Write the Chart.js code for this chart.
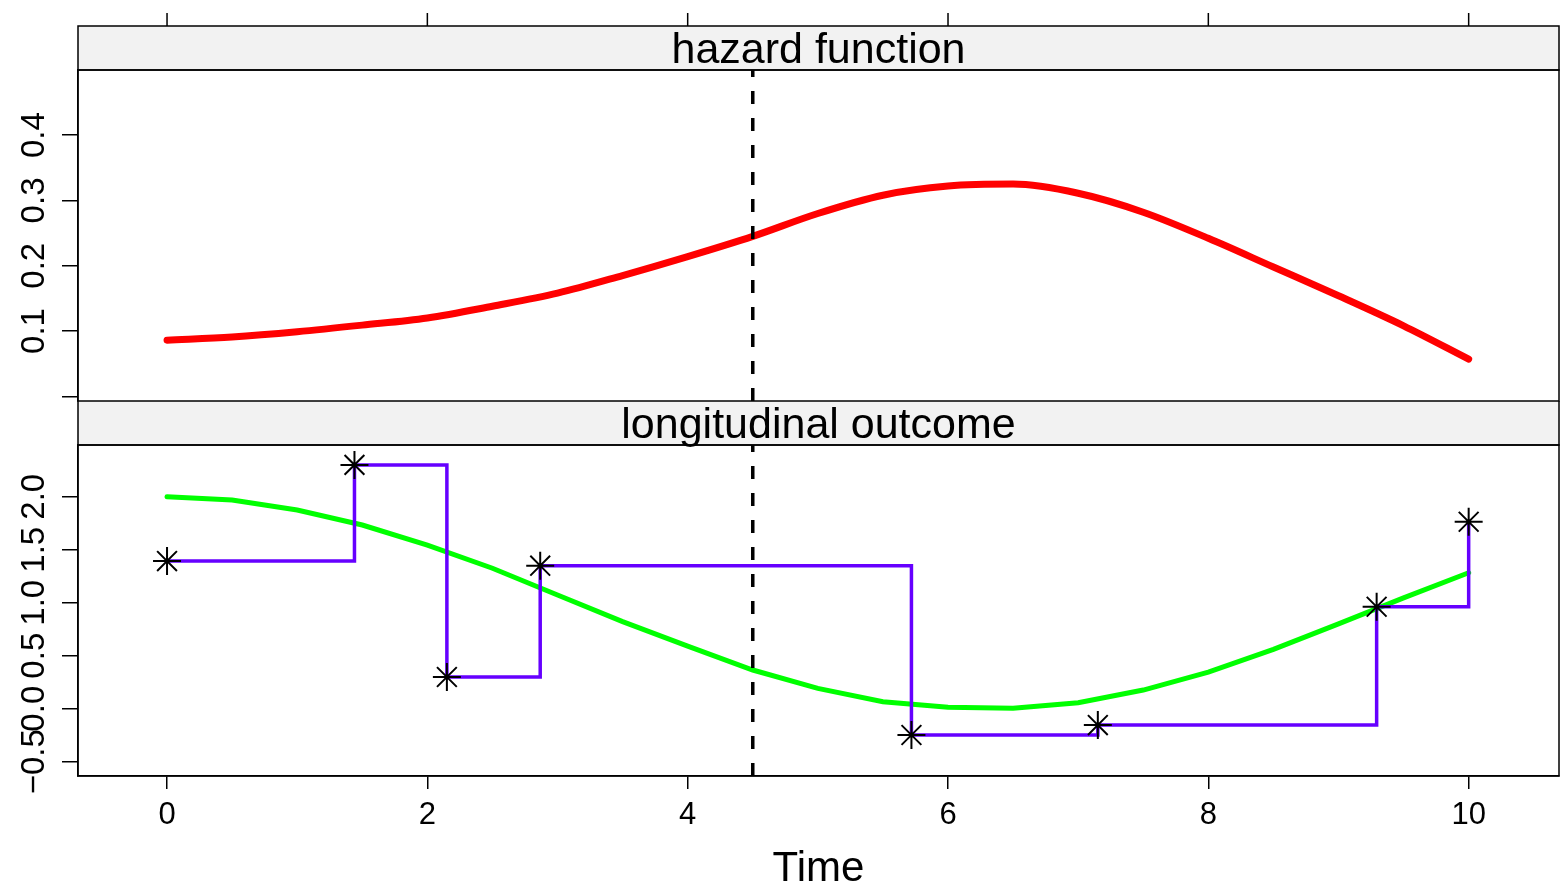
<!DOCTYPE html>
<html lang="en">
<head>
<meta charset="UTF-8" />
<title>hazard function / longitudinal outcome</title>
<style>
  html, body { margin: 0; padding: 0; background: #fff; }
  #wrap { position: relative; width: 1562px; height: 891px; overflow: hidden; }
  .panel { position: absolute; left: 0; width: 1562px; }
  #topPanel { top: 0; height: 403px; }
  #bottomPanel { top: 401px; height: 490px; }
</style>
</head>
<body>

<div id="wrap">
  <div class="panel" id="topPanel"><canvas id="hazardChart"></canvas></div>
  <div class="panel" id="bottomPanel"><canvas id="longChart"></canvas></div>
</div>

<script src="https://cdn.jsdelivr.net/npm/chart.js"></script>
<script>
// values
const timeGrid = [0, 0.5, 1, 1.5, 2, 2.5, 3, 3.5, 4, 4.5, 5, 5.5, 6, 6.5, 7, 7.5, 8, 8.5, 9, 9.5, 10];
const hazard   = [0.086, 0.091, 0.099, 0.109, 0.120, 0.138, 0.158, 0.185, 0.214, 0.245, 0.280,
                  0.308, 0.322, 0.325, 0.311, 0.282, 0.242, 0.198, 0.154, 0.108, 0.057];
const fitted   = [2.000, 1.969, 1.875, 1.733, 1.544, 1.325, 1.073, 0.821, 0.590, 0.365, 0.192,
                  0.066, 0.013, 0.004, 0.057, 0.176, 0.345, 0.560, 0.800, 1.045, 1.283];

const obsTime  = [0, 1.44, 2.15, 2.867, 5.719, 7.151, 9.293, 10.0];
const obsValue = [1.393, 2.30, 0.299, 1.349, -0.248, -0.154, 0.962, 1.764];

const cutTime = 4.5;

const timeTicks    = [0, 2, 4, 6, 8, 10];
const hazardTicks  = [0, 0.1, 0.2, 0.3, 0.4];
const hazardLabels = ['', '0.1', '0.2', '0.3', '0.4'];
const outcomeTicks  = [-0.5, 0, 0.5, 1, 1.5, 2];
const outcomeLabels = ['\u22120.5', '0.0', '0.5', '1.0', '1.5', '2.0'];

const timeRange    = [-0.684, 10.694];
const hazardRange  = [-0.0072, 0.4998];
const outcomeRange = [-0.635, 2.488];

const FONT = '"Liberation Sans", Arial, Helvetica, sans-serif';

function pts(xs, ys) { return xs.map((x, i) => ({ x: x, y: ys[i] })); }

// strip, frame, top ticks and rotated y labels, lattice style
const latticePanel = {
  id: 'latticePanel',
  afterDraw(chart, args, opts) {
    const ctx = chart.ctx, a = chart.chartArea;
    const xs = chart.scales.x, ys = chart.scales.y;
    const sTop = a.top - opts.stripHeight;
    ctx.save();
    ctx.fillStyle = '#f2f2f2';
    ctx.fillRect(a.left, sTop, a.right - a.left, opts.stripHeight);
    ctx.strokeStyle = '#000';
    ctx.lineWidth = 1.5;
    ctx.strokeRect(a.left, sTop, a.right - a.left, opts.stripHeight);
    ctx.strokeRect(a.left, a.top, a.right - a.left, a.bottom - a.top);

    ctx.fillStyle = '#000';
    ctx.textAlign = 'center';
    ctx.textBaseline = 'middle';
    ctx.font = '43px ' + FONT;
    ctx.fillText(opts.strip, (a.left + a.right) / 2, sTop + opts.stripHeight / 2 + 3);

    if (opts.topTicks) {
      ctx.beginPath();
      timeTicks.forEach(t => {
        const px = xs.getPixelForValue(t);
        ctx.moveTo(px, sTop);
        ctx.lineTo(px, sTop - 13);
      });
      ctx.stroke();
    }

    ctx.font = '33px ' + FONT;
    opts.ticks.forEach((v, i) => {
      const label = opts.labels[i];
      if (!label) return;
      const py = ys.getPixelForValue(v);
      ctx.save();
      ctx.translate(35, py);
      ctx.rotate(-Math.PI / 2);
      ctx.fillText(label, 0, 0);
      ctx.restore();
    });
    ctx.restore();
  }
};

function yAxis(range, ticks) {
  return {
    type: 'linear',
    min: range[0],
    max: range[1],
    afterFit(s) { s.width = 78; },
    afterBuildTicks(s) { s.ticks = ticks.map(v => ({ value: v })); },
    ticks: { display: false },
    grid: { drawOnChartArea: false, tickLength: 16, tickColor: '#000', lineWidth: 1.5 },
    border: { color: '#000', width: 1.5 }
  };
}

function cutLine(range) {
  return {
    data: [{ x: cutTime, y: range[0] }, { x: cutTime, y: range[1] }],
    borderColor: '#000',
    borderWidth: 3.5,
    borderDash: [13, 14],
    pointRadius: 0,
    order: -1
  };
}

Chart.defaults.font.family = FONT;
Chart.defaults.color = '#000';

new Chart(document.getElementById('hazardChart'), {
  type: 'line',
  data: {
    datasets: [
      {
        data: pts(timeGrid, hazard),
        borderColor: '#ff0000',
        borderWidth: 7,
        borderCapStyle: 'round',
        borderJoinStyle: 'round',
        pointRadius: 0,
        cubicInterpolationMode: 'monotone',
        order: 1
      },
      cutLine(hazardRange)
    ]
  },
  options: {
    responsive: true,
    maintainAspectRatio: false,
    animation: false,
    events: [],
    layout: { autoPadding: false, padding: { top: 70, right: 3, bottom: 2, left: 0 } },
    plugins: {
      legend: { display: false },
      tooltip: { enabled: false },
      latticePanel: { strip: 'hazard function', stripHeight: 44, topTicks: true, ticks: hazardTicks, labels: hazardLabels }
    },
    scales: {
      x: { type: 'linear', min: timeRange[0], max: timeRange[1], display: false },
      y: yAxis(hazardRange, hazardTicks)
    }
  },
  plugins: [latticePanel]
});

new Chart(document.getElementById('longChart'), {
  type: 'line',
  data: {
    datasets: [
      {
        data: pts(timeGrid, fitted),
        borderColor: '#00ff00',
        borderWidth: 5,
        borderCapStyle: 'round',
        pointRadius: 0,
        tension: 0,
        order: 2
      },
      {
        data: pts(obsTime, obsValue),
        borderColor: '#6600ff',
        borderWidth: 3.5,
        stepped: true,
        pointRadius: 0,
        order: 1
      },
      {
        data: pts(obsTime, obsValue),
        showLine: false,
        pointStyle: 'star',
        pointRadius: 14,
        pointBorderColor: '#000',
        pointBackgroundColor: 'rgba(0,0,0,0)',
        pointBorderWidth: 2,
        order: 0
      },
      cutLine(outcomeRange)
    ]
  },
  options: {
    responsive: true,
    maintainAspectRatio: false,
    animation: false,
    events: [],
    layout: { autoPadding: false, padding: { top: 44, right: 3, bottom: 0, left: 0 } },
    plugins: {
      legend: { display: false },
      tooltip: { enabled: false },
      latticePanel: { strip: 'longitudinal outcome', stripHeight: 44, topTicks: false, ticks: outcomeTicks, labels: outcomeLabels }
    },
    scales: {
      x: {
        type: 'linear',
        min: timeRange[0],
        max: timeRange[1],
        afterFit(s) { s.height = 115; s.paddingLeft = 0; s.paddingRight = 0; },
        afterBuildTicks(s) { s.ticks = timeTicks.map(v => ({ value: v })); },
        ticks: { color: '#000', font: { size: 31 }, padding: 8, maxRotation: 0, autoSkip: false },
        grid: { drawOnChartArea: false, tickLength: 13, tickColor: '#000', lineWidth: 1.5 },
        border: { color: '#000', width: 1.5 },
        title: { display: true, text: 'Time', color: '#000', font: { size: 42, lineHeight: 1.05 }, padding: { top: 0, bottom: 0 } }
      },
      y: yAxis(outcomeRange, outcomeTicks)
    }
  },
  plugins: [latticePanel]
});
</script>

</body>
</html>
